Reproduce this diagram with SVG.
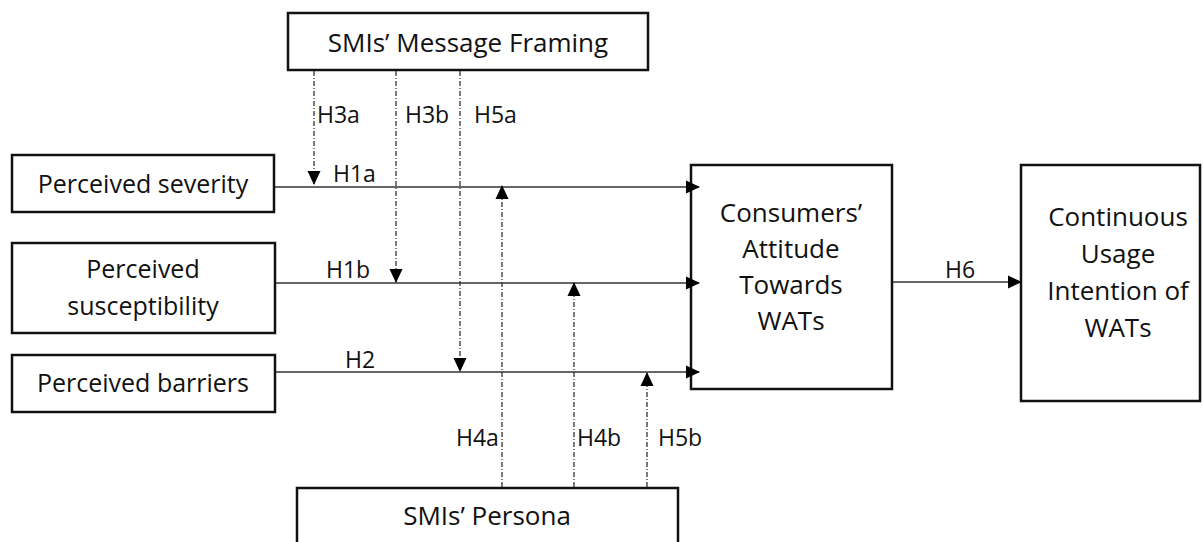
<svg xmlns="http://www.w3.org/2000/svg" width="1203" height="542" viewBox="0 0 1203 542">
<defs>
<marker id="ah" markerWidth="14" markerHeight="14" viewBox="0 0 14 14" refX="13" refY="7" orient="auto" markerUnits="userSpaceOnUse">
<path d="M0,0.5 L14,7 L0,13.5 Z" fill="#000"/>
</marker>
</defs>
<style>
.box{fill:#fff;stroke:#111;stroke-width:2.5}
.t{font-family:"Open Sans","Liberation Sans",sans-serif;font-size:26px;fill:#111;text-anchor:middle}
.tl{font-size:25px}
.lbl{font-family:"Open Sans","Liberation Sans",sans-serif;font-size:23px;fill:#111}
.solid{stroke:#333;stroke-width:1.5;fill:none}
.dash{stroke:#333;stroke-width:1.3;fill:none;stroke-dasharray:5,2,1,2}
</style>
<rect width="1203" height="542" fill="#fff"/>
<g id="framing">
<rect class="box" x="288" y="13" width="360" height="57"/>
<text class="t" x="468" y="52">SMIs’ Message Framing</text>
</g>
<g id="severity">
<rect class="box" x="12" y="155" width="262" height="57"/>
<text class="t tl" x="143" y="193">Perceived severity</text>
</g>
<g id="susceptibility">
<rect class="box" x="12" y="243" width="263" height="90"/>
<text class="t tl" x="143" y="278">Perceived</text>
<text class="t tl" x="143" y="315">susceptibility</text>
</g>
<g id="barriers">
<rect class="box" x="12" y="355" width="263" height="57"/>
<text class="t tl" x="143" y="392">Perceived barriers</text>
</g>
<g id="persona">
<rect class="box" x="297" y="488" width="381" height="70"/>
<text class="t" x="487" y="525">SMIs’ Persona</text>
</g>
<g id="attitude">
<rect class="box" x="691" y="165" width="201" height="224"/>
<text class="t" x="791" y="222">Consumers’</text>
<text class="t" x="791" y="258">Attitude</text>
<text class="t" x="791" y="294">Towards</text>
<text class="t" x="791" y="330">WATs</text>
</g>
<g id="intention">
<rect class="box" x="1021" y="165" width="179" height="236"/>
<text class="t" x="1118" y="226">Continuous</text>
<text class="t" x="1118" y="263">Usage</text>
<text class="t" x="1118" y="300">Intention of</text>
<text class="t" x="1118" y="337">WATs</text>
</g>
<g id="connectors">
<line class="solid" x1="275" y1="187" x2="699" y2="187" marker-end="url(#ah)"/>
<line class="solid" x1="276" y1="283" x2="699" y2="283" marker-end="url(#ah)"/>
<line class="solid" x1="276" y1="372" x2="699" y2="372" marker-end="url(#ah)"/>
<line class="solid" x1="893" y1="282" x2="1021" y2="282" marker-end="url(#ah)"/>
<line class="dash" x1="314" y1="71" x2="314" y2="184" marker-end="url(#ah)"/>
<line class="dash" x1="396" y1="71" x2="396" y2="282" marker-end="url(#ah)"/>
<line class="dash" x1="460" y1="71" x2="460" y2="371" marker-end="url(#ah)"/>
<line class="dash" x1="502" y1="487" x2="502" y2="186" marker-end="url(#ah)"/>
<line class="dash" x1="574" y1="487" x2="574" y2="283" marker-end="url(#ah)"/>
<line class="dash" x1="647" y1="487" x2="647" y2="373" marker-end="url(#ah)"/>
<text class="lbl" x="317" y="123">H3a</text>
<text class="lbl" x="405" y="123">H3b</text>
<text class="lbl" x="474" y="123">H5a</text>
<text class="lbl" x="333" y="182">H1a</text>
<text class="lbl" x="326" y="278">H1b</text>
<text class="lbl" x="345" y="368">H2</text>
<text class="lbl" x="945" y="278">H6</text>
<text class="lbl" x="456" y="446">H4a</text>
<text class="lbl" x="577" y="446">H4b</text>
<text class="lbl" x="658" y="446">H5b</text>
</g>
</svg>
